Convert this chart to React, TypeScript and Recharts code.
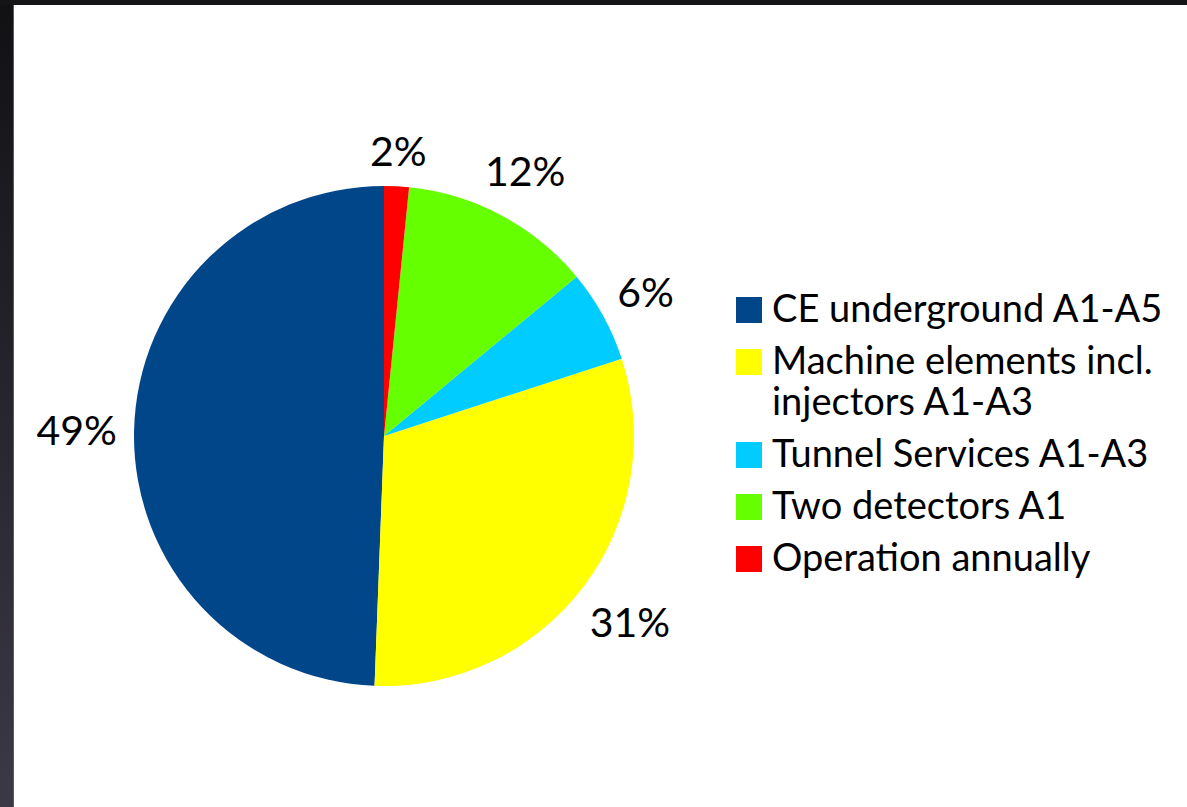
import React from 'react';
import { PieChart, Pie, Cell } from 'recharts';

// cost breakdown, legend order
const categories = [
  'CE underground A1-A5',
  'Machine elements incl. injectors A1-A3',
  'Tunnel Services A1-A3',
  'Two detectors A1',
  'Operation annually',
];
const shares = [49.4, 30.6, 6.0, 12.4, 1.6];
const colors = ['#02468a', '#ffff00', '#00ccff', '#66ff00', '#ff0000'];

const data = categories.map((name, i) => ({ name, value: shares[i] }));

const FONT = 'Lato, "Open Sans", sans-serif';
const RAD = Math.PI / 180;

const renderLabel = (props: any) => {
  const { cx, cy, midAngle, outerRadius, percent } = props;
  const text = `${Math.round(percent * 100)}%`;
  const fs = 41;
  const hw = text.length * fs * 0.31;
  const hh = fs * 0.36;
  const c = Math.cos(-midAngle * RAD);
  const s = Math.sin(-midAngle * RAD);
  const r = outerRadius + 19 + Math.abs(c) * hw + Math.abs(s) * hh;
  return (
    <text x={cx + r * c} y={cy + r * s + hh} textAnchor="middle" fill="#000" fontSize={fs} fontFamily={FONT}>
      {text}
    </text>
  );
};

const LegendBox = () => (
  <div style={{ position: 'absolute', left: 736, top: 287 }}>
    {categories.map((name, i) => (
      <div key={name} style={{ display: 'flex', alignItems: 'flex-start', marginBottom: 11 }}>
        <div style={{ width: 26, height: 26, background: colors[i], marginTop: 10, flexShrink: 0 }} />
        <div style={{ marginLeft: 10, width: 410, fontFamily: FONT, fontSize: 38, lineHeight: '41px', color: '#000' }}>
          {name}
        </div>
      </div>
    ))}
  </div>
);

export default function App() {
  return (
    <div style={{ position: 'fixed', left: 0, top: 0, width: 1187, height: 807, background: 'linear-gradient(#111114, #3c3947)' }}>
      <div style={{ position: 'absolute', left: 0, top: 0, right: 0, height: 5, background: '#141416' }} />
      <div style={{ position: 'absolute', left: 13, top: 5, right: 0, bottom: 0, background: '#fff', borderLeft: '1px solid #5a5a60' }} />
      <div style={{ position: 'absolute', left: 0, top: 0 }}>
        <PieChart width={1187} height={807} margin={{ top: 0, right: 0, bottom: 0, left: 0 }}>
          <Pie
            data={data}
            dataKey="value"
            nameKey="name"
            cx={384}
            cy={436}
            outerRadius={250}
            startAngle={90}
            endAngle={450}
            stroke="none"
            label={renderLabel}
            labelLine={false}
            isAnimationActive={false}
          >
            {data.map((d, i) => (
              <Cell key={d.name} fill={colors[i]} />
            ))}
          </Pie>
        </PieChart>
      </div>
      <LegendBox />
    </div>
  );
}
